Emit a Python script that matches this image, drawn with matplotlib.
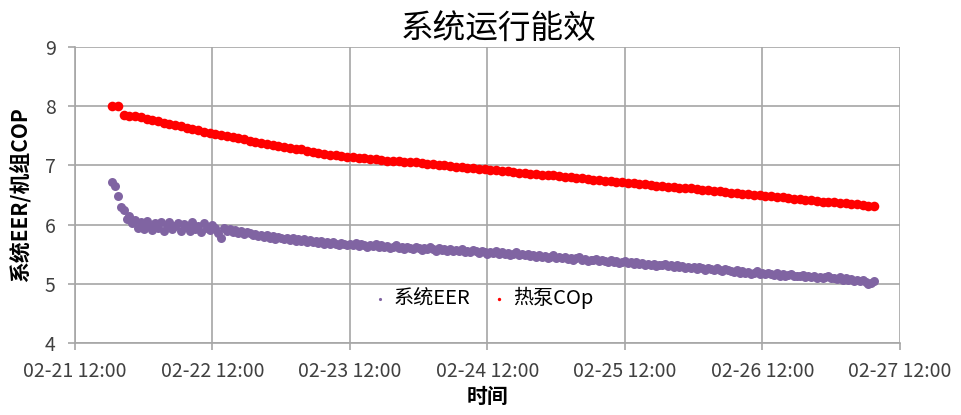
import matplotlib
matplotlib.use("Agg")
import pandas as pd
from matplotlib import pyplot as plt
import matplotlib.dates as mdates

plt.rcParams['font.family'] = ['Noto Sans CJK SC', 'DejaVu Sans']

# 热泵COp, hourly from 02-21 18:30
cop = [8.00, 8.00,
       7.85, 7.84, 7.83, 7.81, 7.79, 7.77, 7.75, 7.72, 7.70, 7.68, 7.66, 7.64,
       7.62, 7.59, 7.57, 7.55, 7.53, 7.51, 7.49, 7.48, 7.46, 7.44, 7.42, 7.40,
       7.38, 7.37, 7.35, 7.33, 7.31, 7.30, 7.28, 7.27, 7.25, 7.23, 7.21, 7.19,
       7.18, 7.17, 7.16, 7.15, 7.14, 7.13, 7.12, 7.11, 7.10, 7.09, 7.08, 7.08,
       7.07, 7.06, 7.05, 7.05, 7.04, 7.03, 7.02, 7.01, 7.00, 6.99, 6.98, 6.97,
       6.96, 6.95, 6.94, 6.94, 6.93, 6.92, 6.91, 6.90, 6.89, 6.88, 6.87, 6.86,
       6.85, 6.84, 6.83, 6.83, 6.82, 6.81, 6.80, 6.79, 6.78, 6.77, 6.76, 6.75,
       6.74, 6.73, 6.72, 6.72, 6.71, 6.70, 6.69, 6.68, 6.67, 6.66, 6.65, 6.64,
       6.63, 6.62, 6.61, 6.61, 6.60, 6.59, 6.58, 6.57, 6.56, 6.55, 6.54, 6.53,
       6.52, 6.51, 6.50, 6.50, 6.49, 6.48, 6.47, 6.46, 6.45, 6.44, 6.43, 6.42,
       6.41, 6.40, 6.39, 6.39, 6.38, 6.37, 6.36, 6.35, 6.34, 6.33, 6.32, 6.31]

# 系统EER, every 30 min from 02-21 18:30
eer = [6.72, 6.66, 6.48, 6.30, 6.24, 6.10, 6.14, 6.02, 6.08, 5.95, 6.04, 5.93,
       6.06, 5.97, 5.91, 6.03, 5.94, 6.05, 5.90, 5.99, 6.04, 5.92, 5.98, 6.02,
       5.89, 6.01, 5.96, 5.90, 6.04, 5.93, 5.97, 5.88, 6.02, 5.95, 5.91, 5.99,
       5.94, 5.86, 5.78, 5.94, 5.90, 5.93, 5.87, 5.91, 5.85, 5.89, 5.84, 5.87,
       5.86, 5.82, 5.84, 5.80, 5.83, 5.79, 5.82, 5.78, 5.81, 5.76, 5.79, 5.78,
       5.75, 5.78, 5.74, 5.77, 5.73, 5.76, 5.72, 5.75, 5.71, 5.74, 5.70, 5.72,
       5.69, 5.72, 5.68, 5.70, 5.67, 5.71, 5.68, 5.66, 5.69, 5.67, 5.65, 5.68,
       5.66, 5.69, 5.64, 5.67, 5.65, 5.62, 5.66, 5.64, 5.67, 5.63, 5.65, 5.62,
       5.64, 5.61, 5.63, 5.66, 5.60, 5.62, 5.59, 5.63, 5.61, 5.58, 5.62, 5.60,
       5.57, 5.61, 5.59, 5.62, 5.58, 5.56, 5.60, 5.57, 5.59, 5.55, 5.58, 5.56,
       5.57, 5.55, 5.58, 5.54, 5.56, 5.53, 5.57, 5.55, 5.52, 5.56, 5.54, 5.51,
       5.54, 5.52, 5.55, 5.51, 5.53, 5.50, 5.52, 5.49, 5.51, 5.53, 5.49, 5.50,
       5.48, 5.51, 5.47, 5.49, 5.46, 5.48, 5.45, 5.47, 5.44, 5.46, 5.48, 5.44,
       5.46, 5.43, 5.45, 5.42, 5.44, 5.41, 5.43, 5.45, 5.41, 5.42, 5.39, 5.41,
       5.40, 5.42, 5.38, 5.41, 5.39, 5.37, 5.40, 5.36, 5.38, 5.35, 5.37, 5.39,
       5.35, 5.37, 5.34, 5.36, 5.33, 5.35, 5.32, 5.34, 5.31, 5.33, 5.30, 5.32,
       5.31, 5.33, 5.30, 5.32, 5.29, 5.31, 5.28, 5.30, 5.27, 5.29, 5.26, 5.28,
       5.25, 5.29, 5.26, 5.24, 5.27, 5.25, 5.23, 5.26, 5.24, 5.22, 5.25, 5.23,
       5.22, 5.20, 5.23, 5.19, 5.21, 5.18, 5.20, 5.17, 5.19, 5.21, 5.17, 5.18,
       5.16, 5.19, 5.17, 5.15, 5.18, 5.14, 5.16, 5.13, 5.15, 5.17, 5.13, 5.14,
       5.13, 5.15, 5.12, 5.14, 5.11, 5.13, 5.10, 5.12, 5.09, 5.11, 5.13, 5.09,
       5.10, 5.08, 5.11, 5.07, 5.09, 5.06, 5.08, 5.05, 5.07, 5.04, 5.06, 5.03,
       4.99, 5.02, 5.04]

cop_times = pd.date_range("2021-02-21 18:30", periods=len(cop), freq="h")
eer_times = pd.date_range("2021-02-21 18:30", periods=len(eer), freq="30min")
x_ticks = pd.date_range("2021-02-21 12:00", periods=7, freq="D")

grid_c = "#a6a6a6"
text_c = "#404040"

fig = plt.figure(figsize=(9.61, 4.15), dpi=100)
ax = fig.add_axes([0.078, 0.1735, 0.8585, 0.7132])

ax.scatter(eer_times, eer, s=42, color="#8064a2", linewidths=0, label="系统EER", zorder=3)
ax.scatter(cop_times, cop, s=48, color="#ff0000", linewidths=0, label="热泵COp", zorder=3)

ax.set_xlim(x_ticks[0], x_ticks[-1])
ax.set_ylim(4, 9)
ax.set_xticks(x_ticks)
ax.xaxis.set_major_formatter(mdates.DateFormatter("%m-%d %H:%M"))
ax.set_yticks(range(4, 10))

ax.grid(True, color=grid_c, linewidth=1.2)
ax.set_axisbelow(True)
for side in ["top", "right"]:
    ax.spines[side].set_visible(False)
for side in ["left", "bottom"]:
    ax.spines[side].set_color(grid_c)
    ax.spines[side].set_linewidth(1.2)
ax.tick_params(axis="both", color=grid_c, length=5, width=1.2, labelsize=14, labelcolor=text_c)
ax.tick_params(axis="x", pad=8)
ax.tick_params(axis="y", pad=9)

ax.set_title("系统运行能效", fontsize=23.5, pad=6, x=0.513)
ax.set_xlabel("时间", fontsize=15, fontweight="bold", labelpad=3)
ax.set_ylabel("系统EER/机组COP", fontsize=15, fontweight="bold", labelpad=10)

ax.legend(loc="center", bbox_to_anchor=(0.494, 0.152), ncol=2, frameon=False,
          fontsize=14.5, markerscale=0.35, handlelength=0.8, handletextpad=0.3,
          columnspacing=1.0)

fig.savefig("out.png", dpi=100)
